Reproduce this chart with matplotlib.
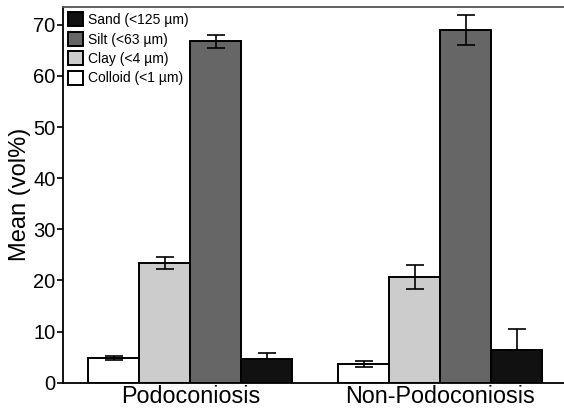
import matplotlib.pyplot as plt
import numpy as np

plt.rcParams['font.family'] = ['Liberation Sans', 'DejaVu Sans']

groups = ['Podoconiosis', 'Non-Podoconiosis']
fractions = ['Colloid (<1 \u00b5m)', 'Clay (<4 \u00b5m)', 'Silt (<63 \u00b5m)', 'Sand (<125 \u00b5m)']
colloid = [4.9, 3.6]
colloid_err = [0.4, 0.6]
clay = [23.4, 20.7]
clay_err = [1.15, 2.35]
silt = [66.8, 69.0]
silt_err = [1.3, 2.9]
sand = [4.6, 6.4]
sand_err = [1.3, 4.2]

colors = ['#ffffff', '#cccccc', '#666666', '#111111']
means = [colloid, clay, silt, sand]
errs = [colloid_err, clay_err, silt_err, sand_err]

fig = plt.figure(figsize=(5.64, 4.08), dpi=100)
ax = fig.add_axes([0.111, 0.062, 0.889, 0.921])

x = np.arange(len(groups))
w = 0.204
handles = []
for i, (m, e, c, lab) in enumerate(zip(means, errs, colors, fractions)):
    pos = x + (i - 1.5) * w
    b = ax.bar(pos, m, width=w, color=c, edgecolor='black', linewidth=1.4,
               label=lab, zorder=2)
    # the lower half of the sand error bar is hidden in the black bar
    yerr = [np.zeros(len(e)), e] if c == '#111111' else e
    ax.errorbar(pos, m, yerr=yerr, fmt='none', ecolor='black', elinewidth=1.2,
                capsize=6.5, capthick=1.2, zorder=3)
    handles.append(b)

ax.set_xlim(-0.511, 1.494)
ax.set_ylim(0, 73.5)
ax.set_yticks(range(0, 71, 10))
ax.set_xticks(x)
ax.set_xticklabels(groups, fontsize=16.8)
ax.tick_params(axis='x', length=0, pad=2)
ax.tick_params(axis='y', labelsize=14.5, length=4, width=1.2, pad=1)
ax.set_ylabel('Mean (vol%)', fontsize=17, labelpad=2)

for s in ['left', 'bottom']:
    ax.spines[s].set_linewidth(1.3)
ax.spines['top'].set_linewidth(1.3)
ax.spines['top'].set_color('#555555')
ax.spines['right'].set_visible(False)

ax.legend(handles[::-1], fractions[::-1], loc='upper left', frameon=False,
          fontsize=10, handlelength=1.05, handleheight=1.15, handletextpad=0.4,
          labelspacing=0.35, borderaxespad=0.2, borderpad=0.2)

fig.savefig('out.png', dpi=100)
